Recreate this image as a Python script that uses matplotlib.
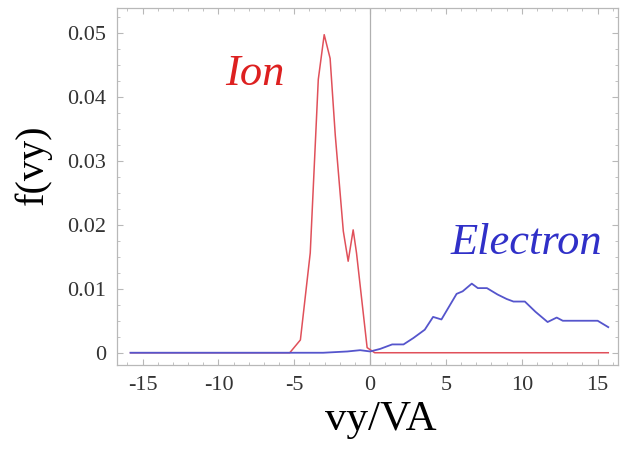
import numpy as np
import matplotlib.pyplot as plt
from matplotlib.ticker import MultipleLocator

# ion distribution (red)
ion_v = [-15.8, -5.3, -4.6, -3.95, -3.42, -3.03, -2.64, -2.3, -1.77, -1.45, -1.12, -0.9, -0.2, 0.3, 15.7]
ion_f = [0.0, 0.0, 0.002, 0.0156, 0.0427, 0.0497, 0.046, 0.034, 0.019, 0.0143, 0.0192, 0.0156, 0.0008, 0.0, 0.0]

# electron distribution (blue)
ele_v = [-15.8, -3.1, -1.5, -0.66, 0.0, 0.66, 1.45, 2.2, 2.85, 3.6, 4.15, 4.7, 5.7, 6.1, 6.7,
         7.1, 7.7, 8.4, 9.0, 9.45, 10.2, 10.9, 11.7, 12.3, 12.7, 15.0, 15.7]
ele_f = [0.0, 0.0, 0.0002, 0.0004, 0.0002, 0.0006, 0.0013, 0.0013, 0.0023, 0.0036, 0.0056, 0.0052,
         0.0092, 0.0096, 0.0108, 0.0101, 0.0101, 0.0091, 0.0084, 0.008, 0.008, 0.0064, 0.0048,
         0.0055, 0.005, 0.005, 0.004]

xticks = [-15, -10, -5, 0, 5, 10, 15]
yticks = [0, 0.01, 0.02, 0.03, 0.04, 0.05]
ytick_labels = ['0', '0.01', '0.02', '0.03', '0.04', '0.05']

plt.rcParams['font.family'] = ['Liberation Serif', 'DejaVu Serif']
plt.rcParams['axes.unicode_minus'] = False

fig = plt.figure(figsize=(6.25, 4.59), dpi=100)
ax = fig.add_axes([0.187, 0.205, 0.802, 0.778])

ax.axvline(0, color='#b0b0b0', lw=0.9)
ax.plot(ion_v, ion_f, color='#e0505a', lw=1.1)
ax.plot(ele_v, ele_f, color='#5555cc', lw=1.3)

ax.set_xlim(-16.7, 16.35)
ax.set_ylim(-0.0019, 0.0539)
ax.set_xticks(xticks)
ax.set_yticks(yticks)
ax.set_yticklabels(ytick_labels)
ax.xaxis.set_minor_locator(MultipleLocator(1))
ax.yaxis.set_minor_locator(MultipleLocator(0.0025))

for s in ax.spines.values():
    s.set_color('#b8b8b8')
    s.set_linewidth(0.9)
ax.tick_params(which='both', direction='in', top=True, right=True, color='#b8b8b8',
               labelsize=16, labelcolor='#333333')
ax.tick_params(which='major', length=4, pad=8)
ax.tick_params(which='minor', length=2)

ax.set_xlabel('vy/VA', fontsize=31)
ax.xaxis.set_label_coords(0.527, -0.1)
ax.set_ylabel('f(vy)', fontsize=29)
ax.yaxis.set_label_coords(-0.13, 0.56)

ax.text(-7.6, 0.0435, 'Ion', color='#dd2020', fontsize=32, style='italic', ha='center', va='center')
ax.text(10.3, 0.0172, 'Electron', color='#3030c8', fontsize=32, style='italic', ha='center', va='center')

fig.savefig('out.png', dpi=100)
